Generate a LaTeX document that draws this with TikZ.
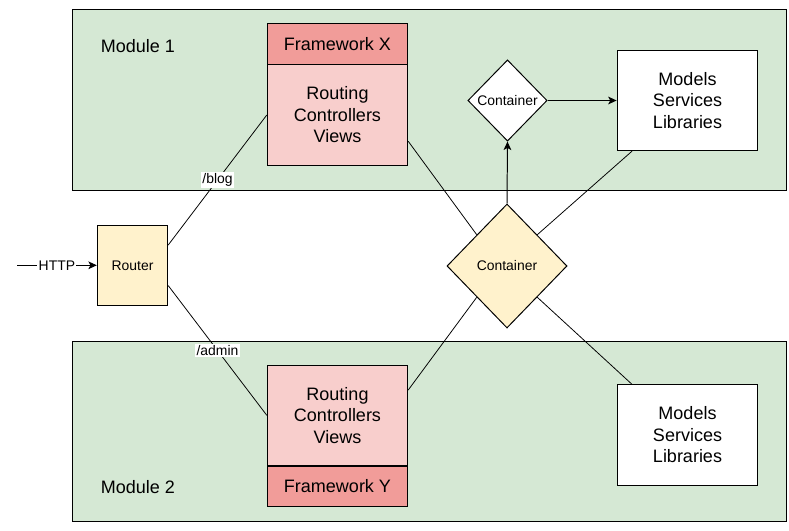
\documentclass[tikz,border=0pt]{standalone}
\usepackage{fontspec}
\setmainfont{Liberation Sans}
\usetikzlibrary{arrows.meta,positioning,calc,shapes.geometric}
\definecolor{modgreen}{HTML}{D5E8D4}
\definecolor{viewpink}{HTML}{F8CECC}
\definecolor{fwred}{HTML}{F19C99}
\definecolor{routeyellow}{HTML}{FFF2CC}

\tikzset{
  bigtext/.style={font=\fontsize{12.8}{15.3}\selectfont},
  smalltext/.style={font=\fontsize{9.9}{12}\selectfont},
  module/.style={draw,line width=.7pt,fill=modgreen,minimum width=17.84cm,minimum height=4.5cm,inner sep=0pt},
  viewbox/.style={draw,line width=.7pt,fill=viewpink,minimum width=3.51cm,minimum height=2.5cm,align=center,inner sep=0pt,bigtext},
  fwbox/.style={draw,line width=.7pt,fill=fwred,minimum width=3.51cm,minimum height=1cm,inner sep=0pt,bigtext},
  libbox/.style={draw,line width=.7pt,fill=white,minimum width=3.52cm,minimum height=2.5cm,align=center,inner sep=0pt,bigtext},
  routerbox/.style={draw,line width=.7pt,fill=routeyellow,minimum width=1.76cm,minimum height=2cm,inner sep=0pt,smalltext},
  bigdia/.style={diamond,draw,line width=.7pt,fill=routeyellow,aspect=.97,minimum width=3cm,minimum height=3.1cm,inner sep=0pt,smalltext},
  smalldia/.style={diamond,draw,line width=.7pt,fill=white,aspect=.98,minimum width=1.98cm,minimum height=2.03cm,inner sep=0pt,smalltext},
  link/.style={draw,line width=.55pt},
  arrow/.style={draw,line width=.7pt,-{Stealth[length=6pt,width=5.5pt,inset=1.5pt]}},
  pathlabel/.style={fill=white,inner sep=1pt,smalltext}
}

\begin{document}
\begin{tikzpicture}[x=0.025cm,y=-0.025cm]
\useasboundingbox (0,0) rectangle (789,531);

% modules
\node[module] (mod1) at (429.2,100) {};
\node[module] (mod2) at (429.2,431.3) {};
\node[anchor=west,inner sep=0pt,bigtext] (mod1label) at (100.7,46) {Module 1};
\node[anchor=west,inner sep=0pt,bigtext] (mod2label) at (100.7,487) {Module 2};

% frameworks
\node[viewbox] (viewx) at (337.5,115) {Routing\\Controllers\\Views};
\node[fwbox,above=0pt of viewx] (fwx) {Framework X};
\node[viewbox] (viewy) at (337.5,415.3) {Routing\\Controllers\\Views};
\node[fwbox,below=0pt of viewy] (fwy) {Framework Y};

% libraries
\node[libbox] (lib1) at (687.5,100.5) {Models\\Services\\Libraries};
\node[libbox] (lib2) at (687.5,435) {Models\\Services\\Libraries};

% router and containers
\node[routerbox] (router) at (132.5,265.3) {Router};
\node[bigdia] (cont) at (507,266) {Container};
\node[smalldia] (subcont) at (507.5,100.5) {Container};
\coordinate (httpin) at (17,265.3);

% connectors
\draw[link] ($(router.north east)!.25!(router.south east)$) -- node[pathlabel] {/blog} (viewx.west);
\draw[link] ($(router.north east)!.75!(router.south east)$) -- node[pathlabel] {/admin} (viewy.west);
\draw[link] ($(viewx.north east)!.76!(viewx.south east)$) -- (cont.north west);
\draw[link] ($(viewy.north east)!.25!(viewy.south east)$) -- (cont.south west);
\draw[link] (cont.north east) -- ($(lib1.south west)!.11!(lib1.south east)$);
\draw[link] (cont.south east) -- ($(lib2.north west)!.11!(lib2.north east)$);
\draw[arrow] (cont.north) -- (subcont.south);
\draw[arrow] (subcont.east) -- (lib1.west);
\draw[arrow] (httpin) -- node[fill=white,inner sep=1pt,smalltext] {HTTP} (router.west);
\end{tikzpicture}
\end{document}
